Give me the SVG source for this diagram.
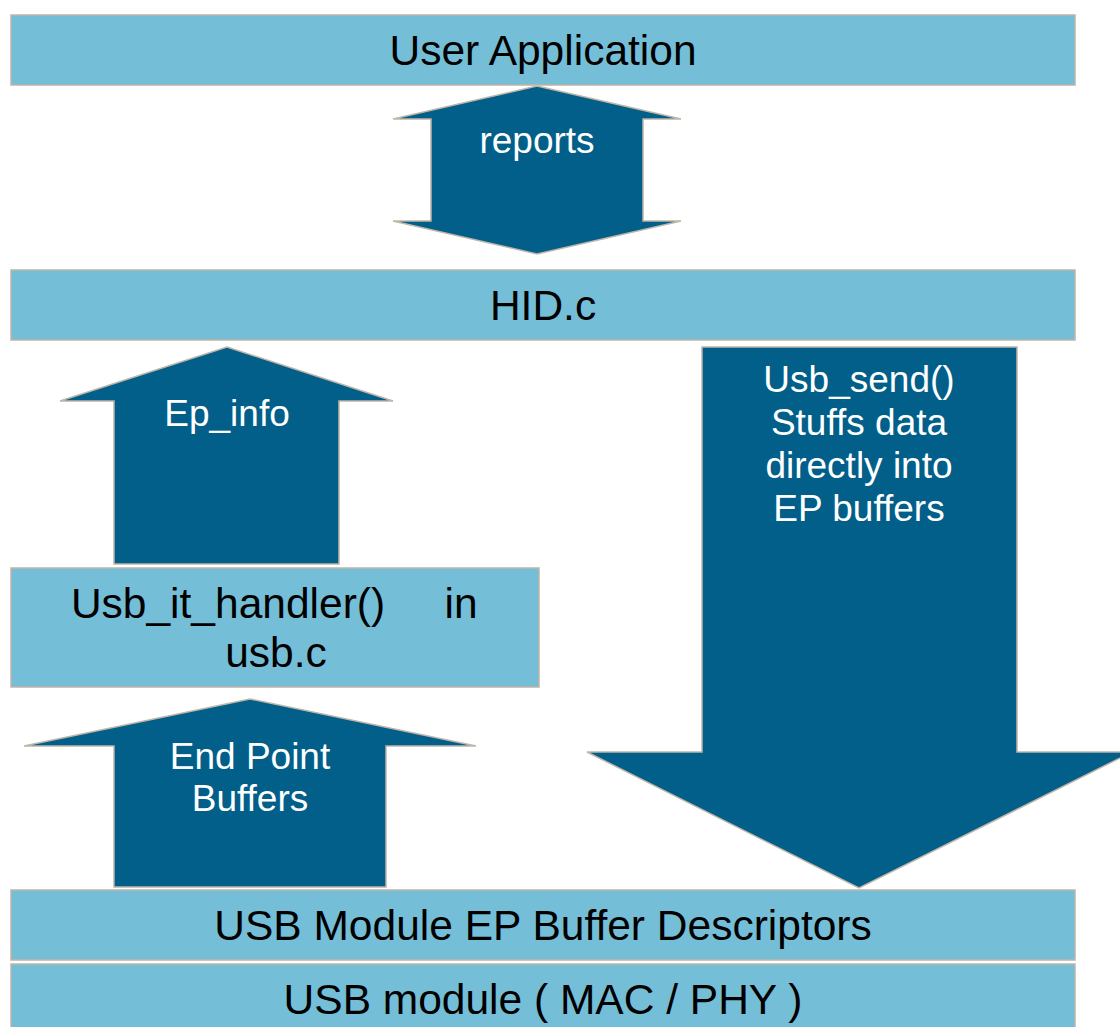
<svg xmlns="http://www.w3.org/2000/svg" width="1120" height="1027" viewBox="0 0 1120 1027">
  <style>
    .layer { fill: #74BED7; stroke: #BFB5A9; stroke-width: 1.5; }
    .flow { fill: #015F8A; stroke: #BFB5A9; stroke-width: 1.5; stroke-linejoin: miter; }
    .lbl { font-family: "Liberation Sans", Arial, sans-serif; font-size: 42.5px; fill: #000000; text-anchor: middle; }
    .flbl { font-family: "Liberation Sans", Arial, sans-serif; font-size: 37px; fill: #FFFFFF; text-anchor: middle; }
  </style>
  <rect x="0" y="0" width="1120" height="1027" fill="#FFFFFF"/>

  <!-- stack layers -->
  <g id="user-application">
    <rect class="layer" x="11" y="15" width="1064" height="70"/>
    <text class="lbl" x="543" y="65">User Application</text>
  </g>
  <g id="hid-c">
    <rect class="layer" x="11" y="270" width="1064" height="70"/>
    <text class="lbl" x="543" y="320">HID.c</text>
  </g>
  <g id="usb-it-handler">
    <rect class="layer" x="11" y="568" width="528" height="119"/>
    <text class="lbl" x="275" y="618"><tspan x="228">Usb_it_handler()</tspan><tspan x="461">in</tspan></text>
    <text class="lbl" x="276" y="667">usb.c</text>
  </g>
  <g id="ep-buffer-descriptors">
    <rect class="layer" x="11" y="890" width="1064" height="70"/>
    <text class="lbl" x="543" y="940">USB Module EP Buffer Descriptors</text>
  </g>
  <g id="usb-module">
    <rect class="layer" x="11" y="964" width="1064" height="80"/>
    <text class="lbl" x="543" y="1014">USB module ( MAC / PHY )</text>
  </g>

  <!-- block arrows between layers -->
  <g id="connectors">
    <g id="reports">
      <polygon class="flow" points="537,86 681,119 643,119 643,221 681,221 537,254 393,221 431,221 431,119 393,119"/>
      <text class="flbl" x="537" y="153">reports</text>
    </g>
    <g id="ep-info">
      <polygon class="flow" points="227,347 393,401 339,401 339,564 114,564 114,401 60,401"/>
      <text class="flbl" x="227" y="426">Ep_info</text>
    </g>
    <g id="end-point-buffers">
      <polygon class="flow" points="250,699 476,746 386,746 386,887 114,887 114,746 24,746"/>
      <text class="flbl" x="250" y="769">End Point</text>
      <text class="flbl" x="250" y="811">Buffers</text>
    </g>
    <g id="usb-send">
      <polygon class="flow" points="702,347 1017,347 1017,752 1132,752 859,888 587,752 702,752"/>
      <text class="flbl" x="859" y="392">Usb_send()</text>
      <text class="flbl" x="859" y="435">Stuffs data</text>
      <text class="flbl" x="859" y="478">directly into</text>
      <text class="flbl" x="859" y="521">EP buffers</text>
    </g>
  </g>
</svg>
